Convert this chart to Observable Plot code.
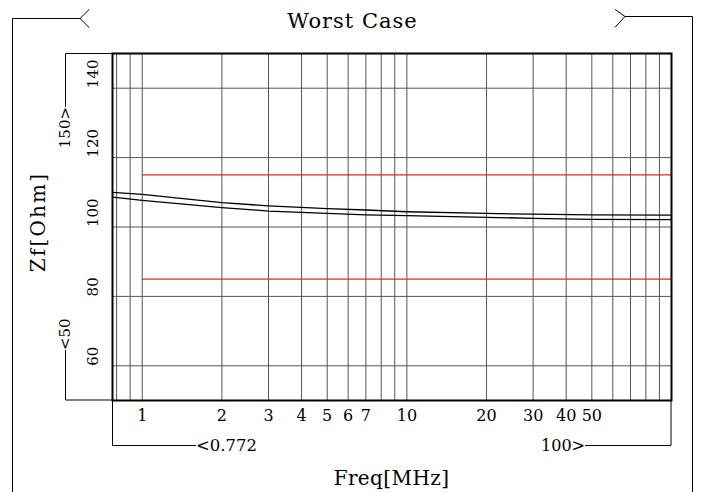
<!DOCTYPE html>
<html>
<head>
<meta charset="utf-8">
<script src="https://cdn.jsdelivr.net/npm/d3@7"></script>
<script src="https://cdn.jsdelivr.net/npm/@observablehq/plot@0.6"></script>
<style>
  html, body { margin: 0; padding: 0; background: #fff; }
  #chart { width: 701px; height: 492px; overflow: hidden; }
  #chart svg text { font-family: "DejaVu Serif", serif !important; }
</style>
</head>
<body>
<div id="chart"></div>
<script>
// ---- data ----
const title = "Worst Case";
const xLabel = "Freq[MHz]";
const yLabel = "Zf[Ohm]";
const xDomain = [0.772, 100];
const yDomain = [50, 150];
const freq = [0.772, 1, 2, 3, 5, 7, 10, 20, 30, 50, 100];
const zfUpper = [110.0, 109.4, 107.0, 106.1, 105.3, 104.9, 104.4, 103.9, 103.7, 103.5, 103.4];
const zfLower = [108.6, 107.7, 105.6, 104.6, 103.9, 103.5, 103.3, 102.8, 102.5, 102.2, 102.1];
const limitValues = [115, 85];
const limitRange = [1, 100];
const xTicks = [1, 2, 3, 4, 5, 6, 7, 10, 20, 30, 40, 50];
const yTicks = [60, 80, 100, 120, 140];
const xGrid = [0.8, 0.9, 1, 2, 3, 4, 5, 6, 7, 8, 9, 10, 20, 30, 40, 50, 60, 70, 80, 90];
const xMinLabel = "<0.772", xMaxLabel = "100>";
const yMinLabel = "<50", yMaxLabel = "150>";

const upperData = freq.map((f, i) => ({f, z: zfUpper[i]}));
const lowerData = freq.map((f, i) => ({f, z: zfLower[i]}));

const serif = "DejaVu Serif";

const plot = Plot.plot({
  width: 701,
  height: 492,
  marginLeft: 112,
  marginRight: 30,
  marginTop: 53,
  marginBottom: 92,
  style: {fontFamily: serif, background: "#fff", overflow: "visible"},
  x: {type: "log", domain: xDomain, axis: null},
  y: {domain: yDomain, axis: null},
  marks: [
    Plot.ruleX(xGrid, {stroke: "#555", strokeWidth: 1}),
    Plot.ruleY(yTicks, {stroke: "#555", strokeWidth: 1}),
    Plot.ruleY(limitValues, {x1: limitRange[0], x2: limitRange[1], stroke: "#ee2222", strokeWidth: 1.2}),
    Plot.line(upperData, {x: "f", y: "z", stroke: "#000", strokeWidth: 1.3}),
    Plot.line(lowerData, {x: "f", y: "z", stroke: "#000", strokeWidth: 1.3}),
    Plot.frame({stroke: "#000", strokeWidth: 2}),
    Plot.text(xTicks, {x: d => d, text: d => String(d), frameAnchor: "bottom", dy: 20, fontSize: 16, fontFamily: serif, fill: "#000"}),
    Plot.text(yTicks, {y: d => d, text: d => String(d), frameAnchor: "left", dx: -19, rotate: -90, fontSize: 15, fontFamily: serif, fill: "#000"})
  ]
});

document.getElementById("chart").appendChild(plot);

// ---- decorations derived from scales ----
const sx = plot.scale("x"), sy = plot.scale("y");
const xL = sx.apply(xDomain[0]), xR = sx.apply(xDomain[1]);
const yT = sy.apply(yDomain[1]), yB = sy.apply(yDomain[0]);
const svg = d3.select(plot);
const g = svg.append("g").attr("fill", "none").attr("stroke", "#000").attr("stroke-width", 1);

// y range brackets
const byX = xL - 47;
g.append("path").attr("d", `M${xL},${yT + 0.5}H${byX + 0.5}V${yT + 54}`);
g.append("path").attr("d", `M${xL},${yB}H${byX + 0.5}V${yB - 50}`);
// x range brackets
const bxY = yB + 45.5;
g.append("path").attr("d", `M${xL + 0.5},${yB}V${bxY}H${xL + 84}`);
g.append("path").attr("d", `M${xR},${yB}V${bxY}H${xR - 86}`);
// outer frame with chevrons
g.append("path").attr("d", `M89.3,9.3L80,18.5L89.3,27.7`);
g.append("path").attr("d", `M80,18.5H12.5V492`);
g.append("path").attr("d", `M615,9.3L625,16.5L615,27.3`);
g.append("path").attr("d", `M625,16.5H692.5V492`);

const t = svg.append("g").attr("fill", "#000").attr("font-family", serif);
// y range labels (rotated)
t.append("text").attr("transform", `translate(${byX},${yT + 54}) rotate(-90)`)
  .attr("text-anchor", "end").attr("dy", "0.35em").attr("font-size", 15).text(yMaxLabel);
t.append("text").attr("transform", `translate(${byX},${yB - 50}) rotate(-90)`)
  .attr("text-anchor", "start").attr("dy", "0.35em").attr("font-size", 15).text(yMinLabel);
// x range labels
t.append("text").attr("x", xL + 84).attr("y", bxY).attr("dy", "0.35em")
  .attr("text-anchor", "start").attr("font-size", 16.5).text(xMinLabel);
t.append("text").attr("x", xR - 86).attr("y", bxY).attr("dy", "0.35em")
  .attr("text-anchor", "end").attr("font-size", 16).text(xMaxLabel);
// title
t.append("text").attr("x", 352.5).attr("y", 28).attr("text-anchor", "middle")
  .attr("font-size", 21).attr("letter-spacing", 1).text(title);
// axis labels
t.append("text").attr("x", (xL + xR) / 2).attr("y", 485).attr("text-anchor", "middle")
  .attr("font-size", 20).attr("letter-spacing", 0.4).text(xLabel);
t.append("text").attr("transform", `translate(45,222) rotate(-90)`).attr("text-anchor", "middle")
  .attr("font-size", 20).attr("letter-spacing", 2.2).text(yLabel);
</script>
</body>
</html>
